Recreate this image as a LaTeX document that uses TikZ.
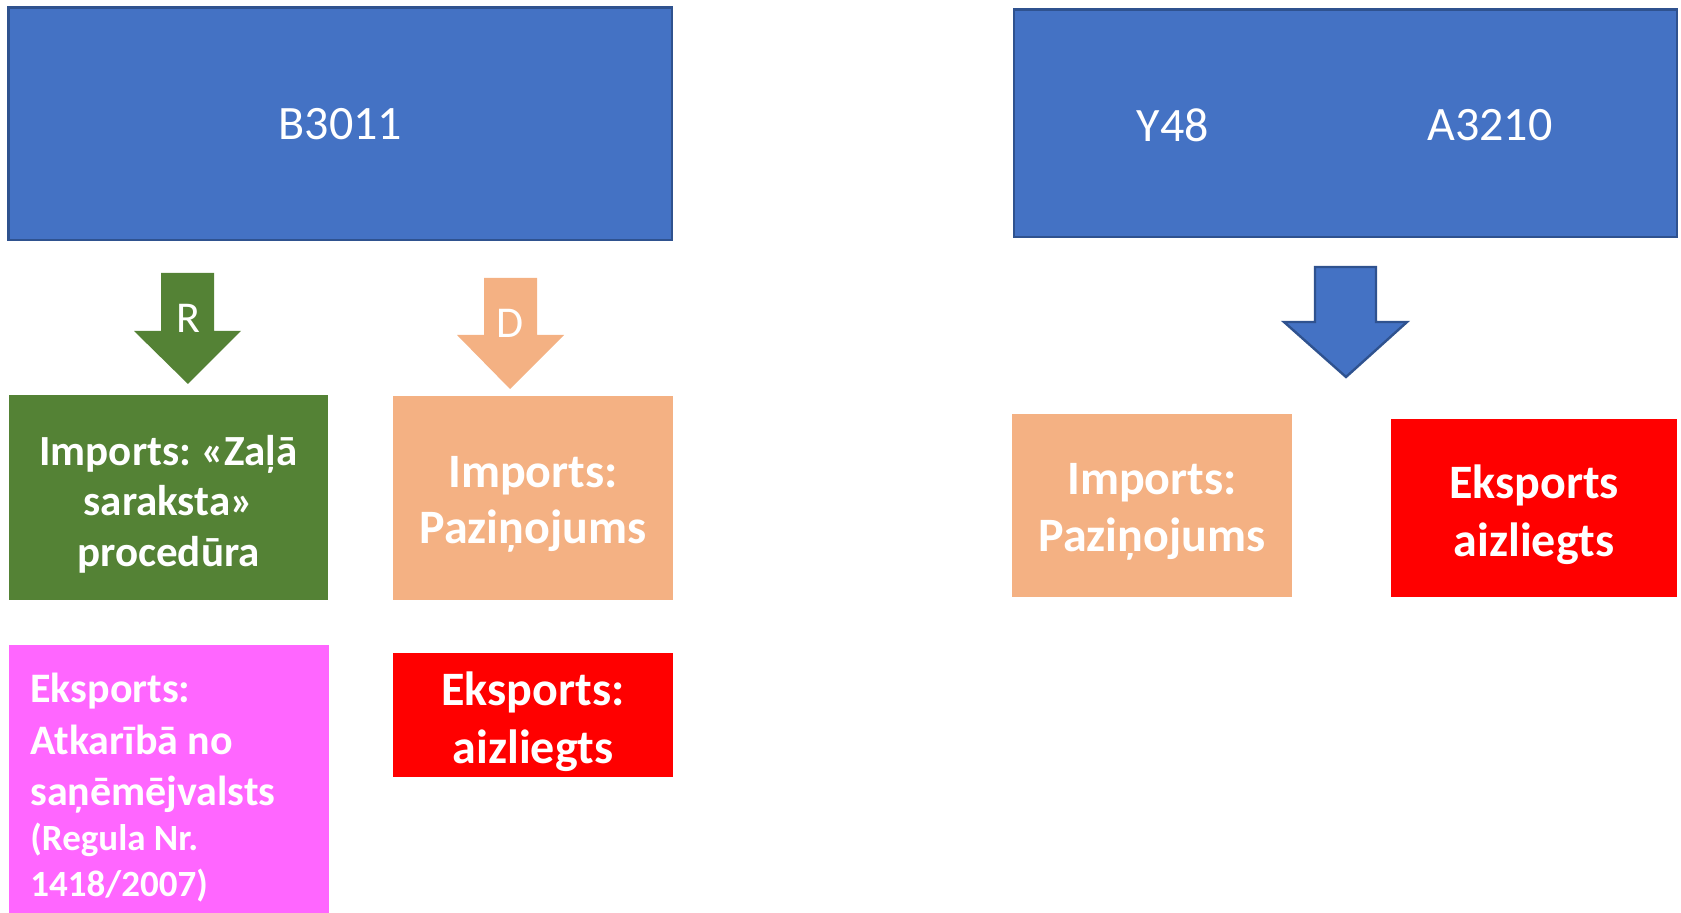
\documentclass[tikz,border=0pt]{standalone}
\usepackage{fontspec}
\setmainfont{Carlito}
\frenchspacing
\definecolor{blueF}{HTML}{4472C4}
\definecolor{blueD}{HTML}{2F528F}
\definecolor{greenF}{HTML}{548235}
\definecolor{orangeF}{HTML}{F4B183}
\definecolor{redF}{HTML}{FF0000}
\definecolor{pinkF}{HTML}{FF66FF}
\begin{document}
\begin{tikzpicture}[x=0.5pt,y=-0.5pt,
  bigbox/.style={draw=blueD, fill=blueF, line width=1.2pt, inner sep=0pt, text=white,
    font=\fontsize{24}{29}\selectfont},
  solid box/.style={fill=#1, inner sep=0pt},
  boxtxt/.style={text=white, inner sep=0pt, align=center},
  codetxt/.style={text=white, inner sep=0pt, font=\fontsize{24}{29}\selectfont},
  arrowtxt/.style={text=white, inner sep=0pt, font=\fontsize{22}{26}\selectfont}
]
\useasboundingbox (0,0) rectangle (1681,913);

% top blue boxes
\node[bigbox, minimum width=331.7pt, minimum height=116.25pt] (b3011) at (340.3,123.75) {B3011};
\node[bigbox, minimum width=331.5pt, minimum height=113.7pt] (ybox) at (1345.5,123.3) {};
\node[codetxt] (y48) at (1173,125) {Y48};
\node[codetxt] (a3210) at (1490,125) {A3210};

% block arrows
\fill[greenF] (161,273) -- (214,273) -- (214,331) -- (241,331) -- (188,384) -- (134,331) -- (161,331) -- cycle;
\node[arrowtxt] (r) at (188,318) {R};
\fill[orangeF] (484,278) -- (537,278) -- (537,335) -- (564,335) -- (510,389) -- (457,335) -- (484,335) -- cycle;
\node[arrowtxt] (d) at (510,323) {D};
\filldraw[fill=blueF, draw=blueD, line width=1.2pt, line join=miter] (1315,267) -- (1376,267) -- (1376,322) -- (1407,322) -- (1346,377) -- (1284,322) -- (1315,322) -- cycle;

% left column boxes
\node[solid box=greenF, minimum width=159.5pt, minimum height=102.5pt] (green) at (168.5,497.5) {};
\node[boxtxt, font=\bfseries\fontsize{21.5}{25.2}\selectfont] (greentxt) at ([yshift=-3.2pt]green.center)
  {Imports: «Zaļā\\saraksta»\\procedūra};
\node[solid box=orangeF, minimum width=140pt, minimum height=102pt] (orangeL) at (533,498) {};
\node[boxtxt, font=\bfseries\fontsize{24}{28.4}\selectfont] (orangeLtxt) at ([yshift=-3.2pt]orangeL.center)
  {Imports:\\Paziņojums};
\node[solid box=redF, minimum width=140pt, minimum height=62pt] (redL) at (533,715) {};
\node[boxtxt, font=\bfseries\fontsize{24}{29}\selectfont] (redLtxt) at ([yshift=-3.2pt]redL.center)
  {Eksports:\\aizliegts};
\node[solid box=pinkF, anchor=north west, minimum width=160pt, minimum height=140pt] (pink) at (9,645) {};
\node[text=white, inner sep=0pt, anchor=north west, align=left,
  font=\bfseries\fontsize{21}{25.7}\selectfont] (pinktxt) at (30,673)
  {Eksports:\\Atkarībā no\\saņēmējvalsts\\[-3.2pt]\fontsize{18.5}{22}\selectfont (Regula Nr.\\[-3pt]\fontsize{18.5}{22}\selectfont 1418/2007)};

% right column boxes
\node[solid box=orangeF, minimum width=140pt, minimum height=91.5pt] (orangeR) at (1152,505.5) {};
\node[boxtxt, font=\bfseries\fontsize{24}{28.4}\selectfont] (orangeRtxt) at ([yshift=-3.2pt]orangeR.center)
  {Imports:\\Paziņojums};
\node[solid box=redF, minimum width=143pt, minimum height=89pt] (redR) at (1534,508) {};
\node[boxtxt, font=\bfseries\fontsize{24}{29}\selectfont] (redRtxt) at ([yshift=-3.2pt]redR.center)
  {Eksports\\aizliegts};
\end{tikzpicture}
\end{document}
